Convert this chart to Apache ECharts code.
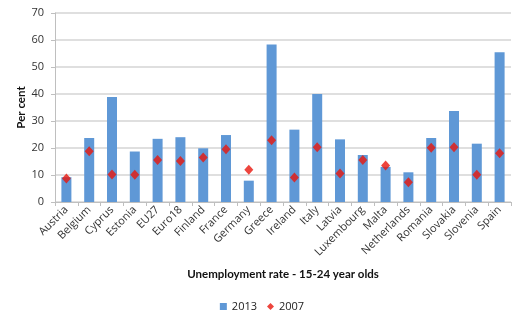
<!DOCTYPE html>
<html>
<head>
<meta charset="utf-8">
<script src="https://cdn.jsdelivr.net/npm/echarts@6/dist/echarts.min.js"></script>
<style>
  html, body { margin: 0; padding: 0; background: #fff; }
  #chart { width: 524px; height: 325px; }
</style>
</head>
<body>
<div id="chart"></div>
<script>
// Youth unemployment rate (15-24 year olds), per cent
const countries = ['Austria', 'Belgium', 'Cyprus', 'Estonia', 'EU27', 'Euro18', 'Finland', 'France',
  'Germany', 'Greece', 'Ireland', 'Italy', 'Latvia', 'Luxembourg', 'Malta', 'Netherlands',
  'Romania', 'Slovakia', 'Slovenia', 'Spain'];
const rate2013 = [9.2, 23.7, 38.9, 18.7, 23.4, 24.0, 19.9, 24.8, 7.9, 58.3, 26.8, 40.0, 23.2, 17.4, 13.0, 11.0,
  23.7, 33.7, 21.6, 55.5];
const rate2007 = [8.7, 18.8, 10.2, 10.1, 15.6, 15.2, 16.5, 19.5, 11.9, 22.9, 9.1, 20.3, 10.6, 15.6, 13.5, 7.3,
  20.1, 20.3, 10.1, 18.1];
const yTicks = { min: 0, max: 70, interval: 10 };

const bodyFont = '"Open Sans", sans-serif';
const titleFont = 'Lato, "Open Sans", sans-serif';
const chart = echarts.init(document.getElementById('chart'));
chart.setOption({
  animation: false,
  textStyle: { fontFamily: bodyFont },
  grid: { left: 55, right: 13, top: 13, bottom: 123 },
  legend: {
    bottom: 8,
    left: 'center',
    itemGap: 10,
    itemWidth: 7,
    itemHeight: 7,
    textStyle: { fontSize: 11, color: '#222', fontFamily: bodyFont },
    data: [
      { name: '2013', icon: 'rect' },
      { name: '2007', icon: 'diamond' }
    ]
  },
  xAxis: {
    type: 'category',
    data: countries,
    name: 'Unemployment rate - 15-24 year olds',
    nameLocation: 'middle',
    nameGap: 66,
    nameMoveOverlap: false,
    nameTextStyle: { fontSize: 11.5, fontWeight: 'bold', color: '#111', fontFamily: titleFont },
    axisLine: { lineStyle: { color: '#bfbfbf', width: 1 } },
    axisTick: { show: true, length: 4, lineStyle: { color: '#bfbfbf' } },
    axisLabel: { rotate: 45, fontSize: 11, color: '#333', margin: 6, interval: 0 }
  },
  yAxis: {
    type: 'value',
    min: yTicks.min,
    max: yTicks.max,
    interval: yTicks.interval,
    name: 'Per cent',
    nameLocation: 'middle',
    nameGap: 28,
    nameMoveOverlap: false,
    nameTextStyle: { fontSize: 11.5, fontWeight: 'bold', color: '#111', fontFamily: titleFont },
    axisLine: { show: true, lineStyle: { color: '#bfbfbf' } },
    axisTick: { show: true, length: 4, lineStyle: { color: '#bfbfbf' } },
    axisLabel: { fontSize: 11, color: '#333', margin: 11 },
    splitLine: { lineStyle: { color: '#d4d4d4', width: 1.5 } }
  },
  series: [
    {
      name: '2013',
      type: 'bar',
      data: rate2013,
      barWidth: 10,
      itemStyle: { color: '#5f98d6' }
    },
    {
      name: '2007',
      type: 'scatter',
      data: rate2007,
      symbol: 'diamond',
      symbolSize: [9, 10],
      itemStyle: { color: '#e8160c' }
    }
  ]
});
</script>
</body>
</html>
